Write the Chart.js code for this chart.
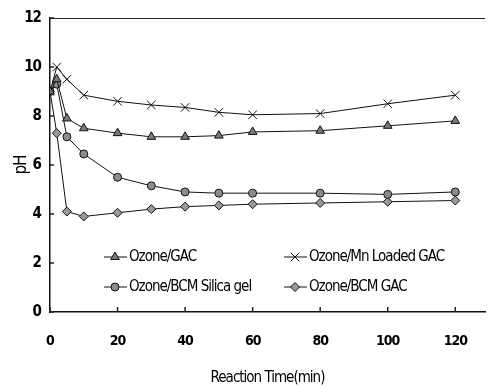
<!DOCTYPE html>
<html lang="en">
<head>
    <meta charset="UTF-8">
    <title>pH vs Reaction Time</title>
    <script src="https://cdn.jsdelivr.net/npm/chart.js"></script>
    <style>
        html, body { margin: 0; padding: 0; background: #fff; }
        #wrap { position: relative; width: 492px; height: 387px; }
    </style>
</head>
<body>
    <div id="wrap"><canvas id="phChart"></canvas></div>

    <script>
        // Data
        const times = [0, 2, 5, 10, 20, 30, 40, 50, 60, 80, 100, 120];
        const ozoneGac = [9.0, 9.5, 7.9, 7.5, 7.3, 7.15, 7.15, 7.2, 7.35, 7.4, 7.6, 7.8];
        const ozoneMnGac = [9.0, 10.0, 9.5, 8.85, 8.6, 8.45, 8.35, 8.15, 8.05, 8.1, 8.5, 8.85];
        const ozoneBcmSilica = [9.0, 9.3, 7.15, 6.45, 5.5, 5.15, 4.9, 4.85, 4.85, 4.85, 4.8, 4.9];
        const ozoneBcmGac = [9.0, 7.3, 4.1, 3.9, 4.05, 4.2, 4.3, 4.35, 4.4, 4.45, 4.5, 4.55];
        const seriesNames = ['Ozone/GAC', 'Ozone/Mn Loaded GAC', 'Ozone/BCM Silica gel', 'Ozone/BCM GAC'];
        const xTicks = [0, 20, 40, 60, 80, 100, 120];
        const yTicks = [0, 2, 4, 6, 8, 10, 12];

        const narrow = '"Liberation Sans Narrow", "DejaVu Sans Condensed", Arial, sans-serif';

        function toPoints(vals) {
            return times.map((t, i) => ({ x: t, y: vals[i] }));
        }

        const styles = [
            { pointStyle: 'triangle', pointRadius: 5, fill: '#7a7a7a' },
            { pointStyle: 'crossRot', pointRadius: 6, fill: '#000' },
            { pointStyle: 'circle', pointRadius: 4, fill: '#8c8c8c' },
            { pointStyle: 'rectRot', pointRadius: 4.5, fill: '#999' }
        ];
        const allSeries = [ozoneGac, ozoneMnGac, ozoneBcmSilica, ozoneBcmGac];

        const datasets = allSeries.map((vals, i) => ({
            label: seriesNames[i],
            data: toPoints(vals),
            borderColor: '#111',
            borderWidth: 1,
            pointStyle: styles[i].pointStyle,
            pointRadius: styles[i].pointRadius,
            pointBackgroundColor: styles[i].fill,
            pointBorderColor: '#111',
            pointBorderWidth: 1,
            tension: 0
        }));

        // squeeze the lettering a little, like the original figure
        const tightText = {
            id: 'tightText',
            beforeDraw(chart) { chart.ctx.letterSpacing = '-1px'; }
        };

        // inward ticks, top frame line and the in-plot legend
        const decor = {
            id: 'decor',
            afterDraw(chart) {
                const ctx = chart.ctx;
                const area = chart.chartArea;
                const xs = chart.scales.x, ys = chart.scales.y;
                ctx.save();
                ctx.strokeStyle = '#222';
                ctx.lineWidth = 1;
                ctx.beginPath();
                ctx.moveTo(area.left, area.top + 0.5);
                ctx.lineTo(area.right, area.top + 0.5);
                ctx.stroke();
                ctx.lineWidth = 1.5;
                ctx.beginPath();
                xTicks.forEach(v => {
                    const px = xs.getPixelForValue(v);
                    ctx.moveTo(px, area.bottom);
                    ctx.lineTo(px, area.bottom - 5);
                });
                yTicks.forEach(v => {
                    const py = ys.getPixelForValue(v);
                    ctx.moveTo(area.left, py);
                    ctx.lineTo(area.left + 4, py);
                });
                ctx.stroke();

                // legend, two columns inside the plot
                const slots = [
                    { x: 115, y: 257 }, { x: 295, y: 257 },
                    { x: 115, y: 287 }, { x: 295, y: 287 }
                ];
                ctx.font = '15px ' + narrow;
                ctx.letterSpacing = '-1px';
                ctx.textBaseline = 'middle';
                ctx.textAlign = 'left';
                chart.data.datasets.forEach((ds, i) => {
                    const s = slots[i];
                    ctx.strokeStyle = '#111';
                    ctx.lineWidth = 1;
                    ctx.beginPath();
                    ctx.moveTo(s.x - 11, s.y);
                    ctx.lineTo(s.x + 12, s.y);
                    ctx.stroke();
                    ctx.fillStyle = ds.pointBackgroundColor;
                    Chart.helpers.drawPoint(ctx, {
                        pointStyle: ds.pointStyle,
                        radius: ds.pointRadius,
                        rotation: 0,
                        borderWidth: 1
                    }, s.x, s.y);
                    ctx.fillStyle = '#000';
                    ctx.fillText(ds.label, s.x + 14, s.y);
                });
                ctx.restore();
                ctx.letterSpacing = '0px';
            }
        };

        new Chart(document.getElementById('phChart'), {
            type: 'line',
            data: { datasets: datasets },
            options: {
                responsive: true,
                maintainAspectRatio: false,
                animation: false,
                layout: { padding: { top: 13, right: 2, left: 0, bottom: 0 } },
                plugins: {
                    legend: { display: false },
                    tooltip: { enabled: false }
                },
                scales: {
                    x: {
                        type: 'linear',
                        min: 0,
                        max: 128.8,
                        afterBuildTicks: axis => { axis.ticks = xTicks.map(v => ({ value: v })); },
                        afterFit: axis => { axis.height = 75; },
                        grid: { display: false, drawTicks: false },
                        border: { display: true, color: '#111', width: 1.5 },
                        ticks: {
                            padding: 21,
                            color: '#000',
                            font: { family: narrow, size: 14, weight: 'bold' },
                            maxRotation: 0
                        },
                        title: {
                            display: true,
                            text: 'Reaction Time(min)',
                            color: '#000',
                            font: { family: narrow, size: 15 },
                            padding: { top: 0, bottom: 0 }
                        }
                    },
                    y: {
                        min: 0,
                        max: 12,
                        afterBuildTicks: axis => { axis.ticks = yTicks.map(v => ({ value: v })); },
                        afterFit: axis => { axis.width = 50; },
                        grid: { display: false, drawTicks: false },
                        border: { display: true, color: '#111', width: 1.5 },
                        ticks: {
                            padding: 9,
                            color: '#000',
                            font: { family: narrow, size: 15, weight: 'bold' }
                        },
                        title: {
                            display: true,
                            text: 'pH',
                            color: '#000',
                            font: { family: narrow, size: 17 },
                            padding: { top: 11, bottom: 0 }
                        }
                    }
                }
            },
            plugins: [tightText, decor]
        });
    </script>
</body>
</html>
